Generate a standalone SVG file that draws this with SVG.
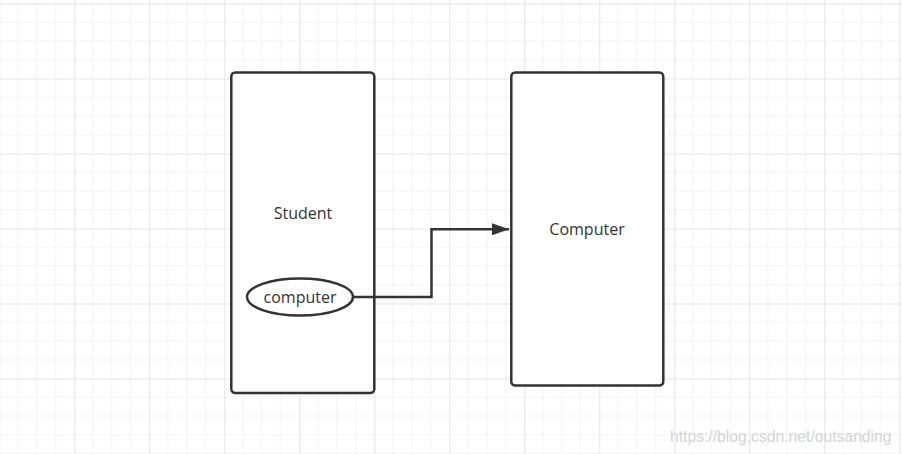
<svg xmlns="http://www.w3.org/2000/svg" width="902" height="454" viewBox="0 0 902 454">
<style>
.box{fill:#fff;stroke:#333;stroke-width:2.5}
.lbl{font-family:"Open Sans","Noto Sans",sans-serif;font-size:16px;fill:#333;text-anchor:middle}
.edge{fill:none;stroke:#333;stroke-width:2.5}
.minor{stroke:#f2f2f2;stroke-width:1}
.major{stroke:#e4e4e4;stroke-width:1}
</style>
<defs>
<pattern id="grid" patternUnits="userSpaceOnUse" x="-0.7" y="3.5" width="75" height="75">
<path class="minor" d="M18.75 0V75M37.5 0V75M56.25 0V75M0 18.75H75M0 37.5H75M0 56.25H75"/>
<path class="major" d="M0.5 0V75M0 0.5H75"/>
</pattern>
<marker id="arrow" markerUnits="userSpaceOnUse" markerWidth="18" markerHeight="12" refX="17" refY="6" orient="auto">
<path d="M0 0L17 6L0 12Z" fill="#333"/>
</marker>
</defs>
<rect width="902" height="454" fill="#fff"/>
<rect width="902" height="454" fill="url(#grid)"/>
<g id="student">
<rect class="box" x="231.3" y="72.5" width="143" height="320.5" rx="4"/>
<text class="lbl" x="303" y="219">Student</text>
</g>
<g id="computer-field">
<ellipse cx="300" cy="297" rx="53" ry="18.5" fill="#fff" stroke="#333" stroke-width="2.5"/>
<text class="lbl" x="300" y="303">computer</text>
</g>
<g id="computer">
<rect class="box" x="511.3" y="72.5" width="152" height="313" rx="4"/>
<text class="lbl" x="587" y="235">Computer</text>
</g>
<g id="connectors">
<path class="edge" d="M353 297H431.5V229.3H509" marker-end="url(#arrow)"/>
</g>
<text x="670" y="442" font-family="Liberation Sans, Arial, sans-serif" font-size="15.7" fill="#d4d4d4">https://blog.csdn.net/outsanding</text>
</svg>
